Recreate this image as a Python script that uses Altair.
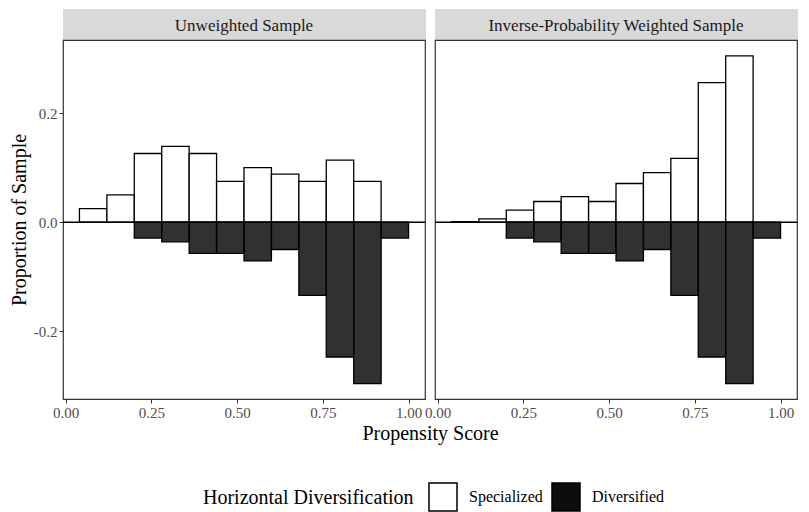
import altair as alt
import pandas as pd

FONT = "Liberation Serif"

# bin edges of the propensity-score histogram
bin_lo = [0.04, 0.12, 0.20, 0.28, 0.36, 0.44, 0.52, 0.60, 0.68, 0.76, 0.84, 0.92]
bin_hi = [0.12, 0.20, 0.28, 0.36, 0.44, 0.52, 0.60, 0.68, 0.76, 0.84, 0.92, 1.00]

# proportions (specialized drawn upward, diversified drawn downward)
unw_spec = [0.025, 0.050, 0.126, 0.139, 0.126, 0.075, 0.100, 0.088, 0.075, 0.114, 0.075, 0.0]
unw_div = [0.0, 0.0, -0.029, -0.036, -0.057, -0.057, -0.071, -0.050, -0.134, -0.247, -0.296, -0.029]
ipw_spec = [0.001, 0.006, 0.022, 0.038, 0.047, 0.038, 0.071, 0.091, 0.117, 0.256, 0.305, 0.0]
ipw_div = [0.0, 0.0, -0.029, -0.036, -0.057, -0.057, -0.071, -0.050, -0.134, -0.247, -0.296, -0.029]

groups = ["Specialized", "Diversified"]
panels = ["Unweighted Sample", "Inverse-Probability Weighted Sample"]
x_ticks = [0.0, 0.25, 0.5, 0.75, 1.0]
y_ticks = [-0.2, 0.0, 0.2]

W = 362
H = 359
HS = 31


def make_df(spec, div):
    rows = []
    for lo, hi, s, d in zip(bin_lo, bin_hi, spec, div):
        if s != 0:
            rows.append({"x0": lo, "x1": hi, "val": s, "group": groups[0]})
        if d != 0:
            rows.append({"x0": lo, "x1": hi, "val": d, "group": groups[1]})
    return pd.DataFrame(rows)


xscale = alt.Scale(domain=[-0.008, 1.048], nice=False, zero=False)
yscale = alt.Scale(domain=[-0.324, 0.334], nice=False, zero=False)
fscale = alt.Scale(domain=groups, range=["#ffffff", "#0d0d0d"])


def panel(df, left):
    if left:
        xaxis = alt.Axis(values=x_ticks, format=".2f", title="Propensity Score",
                         titleX=W + 5, titleAlign="center", titlePadding=3)
        yaxis = alt.Axis(values=y_ticks, title="Proportion of Sample",
                         labelExpr="replace(format(datum.value, '.1f'), '\u2212', '-')",
                         titlePadding=4)
        legend = alt.Legend(
            title="Horizontal Diversification", orient="none", direction="horizontal",
            legendX=140, legendY=473, titleOrient="left", symbolType="square",
            symbolSize=784, symbolStrokeColor="black", symbolStrokeWidth=1.5,
            symbolOpacity=1, labelFont=FONT, titleFont=FONT, labelFontSize=16,
            titleFontSize=20, titleFontWeight="normal", titleColor="black",
            labelColor="black", titlePadding=14, labelOffset=11, columnPadding=6,
            titleBaseline="middle", titleLimit=500, labelLimit=300)
    else:
        xaxis = alt.Axis(values=x_ticks, format=".2f", title=None)
        yaxis = None
        legend = None
    bars = alt.Chart(df).mark_rect(stroke="black", strokeWidth=1.3, fillOpacity=0.85).encode(
        x=alt.X("x0:Q", scale=xscale, axis=xaxis),
        x2="x1:Q",
        y=alt.Y("val:Q", scale=yscale, axis=yaxis),
        y2=alt.datum(0),
        fill=alt.Fill("group:N", scale=fscale, legend=legend),
    )
    zero = alt.Chart(pd.DataFrame({"val": [0]})).mark_rule(color="black", strokeWidth=1.5).encode(
        y=alt.Y("val:Q", scale=yscale, axis=yaxis)
    )
    return alt.layer(bars, zero).properties(width=W, height=H)


def strip(title):
    d = pd.DataFrame({"t": [title]})
    bg = alt.Chart(d).mark_rect(color="#d9d9d9").encode(
        x=alt.value(0), x2=alt.value(W + 1), y=alt.value(0), y2=alt.value(HS))
    tx = alt.Chart(d).mark_text(font=FONT, fontSize=17, color="#1a1a1a").encode(
        x=alt.value(W / 2), y=alt.value(HS / 2 + 1), text="t:N")
    return (bg + tx).properties(width=W, height=HS,
                                view=alt.ViewBackground(stroke="transparent"))


chart = alt.concat(
    strip(panels[0]), strip(panels[1]),
    panel(make_df(unw_spec, unw_div), True), panel(make_df(ipw_spec, ipw_div), False),
    columns=2, spacing={"row": 0, "column": 10}, bounds="flush",
).resolve_scale(fill="shared").properties(
    padding={"left": 0, "top": 0, "right": 0, "bottom": 0}
).configure_axis(
    grid=False, domain=False, labelFont=FONT, titleFont=FONT, labelFontSize=15,
    titleFontSize=20, titleFontWeight="normal", titleColor="black",
    labelColor="#4d4d4d", tickColor="#333333", tickSize=4, labelPadding=2,
).configure_view(stroke="#333333", strokeWidth=1.2)

chart.save("out.html", embed_options={"renderer": "svg", "actions": False})
